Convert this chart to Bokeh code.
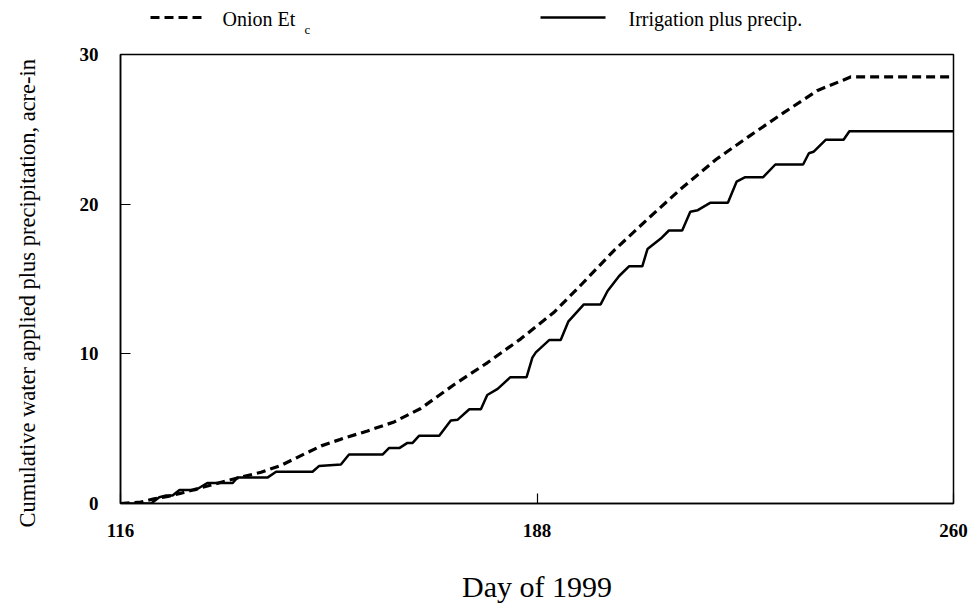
from bokeh.plotting import figure
from bokeh.models import Range1d, FixedTicker, Title
from bokeh.layouts import column
from bokeh.core.properties import value
from bokeh.embed import file_html
from bokeh.resources import INLINE

# ---- data ----
days_etc = [116, 119.5, 121.8, 124.2, 126.5, 129.9, 133.4, 136.8, 140.3, 143.7,
            147.2, 150.7, 154.1, 158.7, 163.3, 167.9, 173.7, 179.4, 185.2, 191,
            195.6, 201.3, 207.4, 213.1, 219, 224.9, 230.6, 236.5, 241, 242.2, 260]
etc_cum = [0, 0.09, 0.31, 0.47, 0.69, 1.05, 1.42, 1.76, 2.09, 2.54,
           3.2, 3.85, 4.3, 4.85, 5.45, 6.35, 7.95, 9.4, 11.0, 12.8,
           14.6, 16.9, 19.1, 21.1, 23.0, 24.6, 26.1, 27.6, 28.3, 28.5, 28.5]

days_irr = [116, 121.3, 122.7, 123.9, 125, 126.2, 129, 131, 135.4, 136.2,
            141.4, 142.9, 149.2, 150.3, 154.1, 155.5, 161.3, 162.4, 164.2, 165.6,
            166.5, 167.6, 171.1, 173.1, 174.3, 176.3, 178.3, 179.4, 181.2, 183.4,
            186.2, 187.2, 187.8, 190.1, 192.1, 193.4, 196.1, 199, 200.2, 202.2,
            203.9, 206.2, 207.1, 209.4, 210.8, 213.1, 214.5, 215.8, 218, 221,
            222.5, 224, 227.1, 229.2, 234, 235, 235.8, 237.9, 241, 242, 260]
irr_cum = [0, 0, 0.42, 0.53, 0.53, 0.9, 0.9, 1.37, 1.37, 1.73,
           1.73, 2.12, 2.12, 2.5, 2.6, 3.27, 3.27, 3.7, 3.7, 4.05,
           4.05, 4.52, 4.52, 5.54, 5.6, 6.3, 6.3, 7.25, 7.66, 8.44,
           8.44, 9.75, 10.1, 10.92, 10.92, 12.15, 13.3, 13.3, 14.2, 15.2,
           15.85, 15.85, 17.0, 17.7, 18.24, 18.24, 19.5, 19.6, 20.1, 20.1,
           21.5, 21.8, 21.8, 22.65, 22.65, 23.4, 23.5, 24.3, 24.3, 24.87, 24.87]

x_ticks = [116, 188, 260]
y_ticks = [0, 10, 20, 30]

series_names = ["Onion Et", "Irrigation plus precip."]
subscript = "c"
x_title = "Day of 1999"
y_title = "Cumulative water applied plus precipitation, acre-in"

FONT = "Liberation Serif"
W = 968
BL, BR = 120, 15          # left / right borders shared by both strips

# ---- main chart ----
p = figure(width=W, height=573, output_backend="svg", toolbar_location=None,
           x_range=Range1d(116, 260), y_range=Range1d(0, 30),
           min_border_left=BL, min_border_right=BR, min_border_top=16,
           min_border_bottom=108)

p.xgrid.visible = False
p.ygrid.visible = False
p.outline_line_color = "black"
p.outline_line_width = 1.5

p.xaxis.ticker = FixedTicker(ticks=x_ticks)
p.yaxis.ticker = FixedTicker(ticks=y_ticks)
for ax in (p.xaxis[0], p.yaxis[0]):
    ax.major_label_text_font = FONT
    ax.major_label_text_font_size = "19px"
    ax.major_label_text_font_style = "bold"
    ax.major_label_text_color = "black"
    ax.major_tick_in = 10
    ax.major_tick_out = 0
    ax.minor_tick_in = 0
    ax.minor_tick_out = 0
    ax.axis_line_color = "black"
    ax.axis_line_width = 1.5
    ax.major_tick_line_color = "black"
    ax.major_tick_line_width = 1.2
    ax.axis_label_text_font = FONT
    ax.axis_label_text_font_style = "normal"
    ax.axis_label_text_color = "black"

p.xaxis.major_label_standoff = 20
p.yaxis.major_label_standoff = 22
p.xaxis.axis_label = x_title
p.xaxis.axis_label_text_font_size = "30px"
p.xaxis.axis_label_standoff = 30

# empty spacer panel between the y axis and its title
p.add_layout(Title(text=" ", text_font_size="1px", standoff=29), "left")
ytitle = Title(text=y_title, align="left", offset=-24, standoff=10,
               text_font=FONT, text_font_size="22.5px", text_font_style="normal",
               text_color="black")
p.add_layout(ytitle, "left")

p.line(days_etc, etc_cum, line_color="black", line_width=3.2, line_dash="9 5")
p.line(days_irr, irr_cum, line_color="black", line_width=2.5)

# ---- legend strip above the chart (x in page pixels) ----
leg = figure(width=W, height=38, output_backend="svg", toolbar_location=None,
             x_range=Range1d(BL, W - BR), y_range=Range1d(0, 38),
             min_border_left=BL, min_border_right=BR, min_border_top=0,
             min_border_bottom=0, x_axis_type=None, y_axis_type=None)
leg.xgrid.visible = False
leg.ygrid.visible = False
leg.outline_line_color = None

leg.line([150, 205], [21, 21], line_color="black", line_width=3.2, line_dash="9 5")
leg.text(x=[222], y=[20], text=[series_names[0]], text_font=value(FONT),
         text_font_size="20px", text_align="left", text_baseline="middle",
         text_color="black")
leg.text(x=[304], y=[9], text=[subscript], text_font=value(FONT),
         text_font_size="13px", text_align="left", text_baseline="middle",
         text_color="black")
leg.line([540, 605], [21, 21], line_color="black", line_width=2.5)
leg.text(x=[628], y=[20], text=[series_names[1]], text_font=value(FONT),
         text_font_size="20px", text_align="left", text_baseline="middle",
         text_color="black")

layout = column(leg, p, spacing=0)
open("out.html", "w").write(file_html(layout, INLINE))
